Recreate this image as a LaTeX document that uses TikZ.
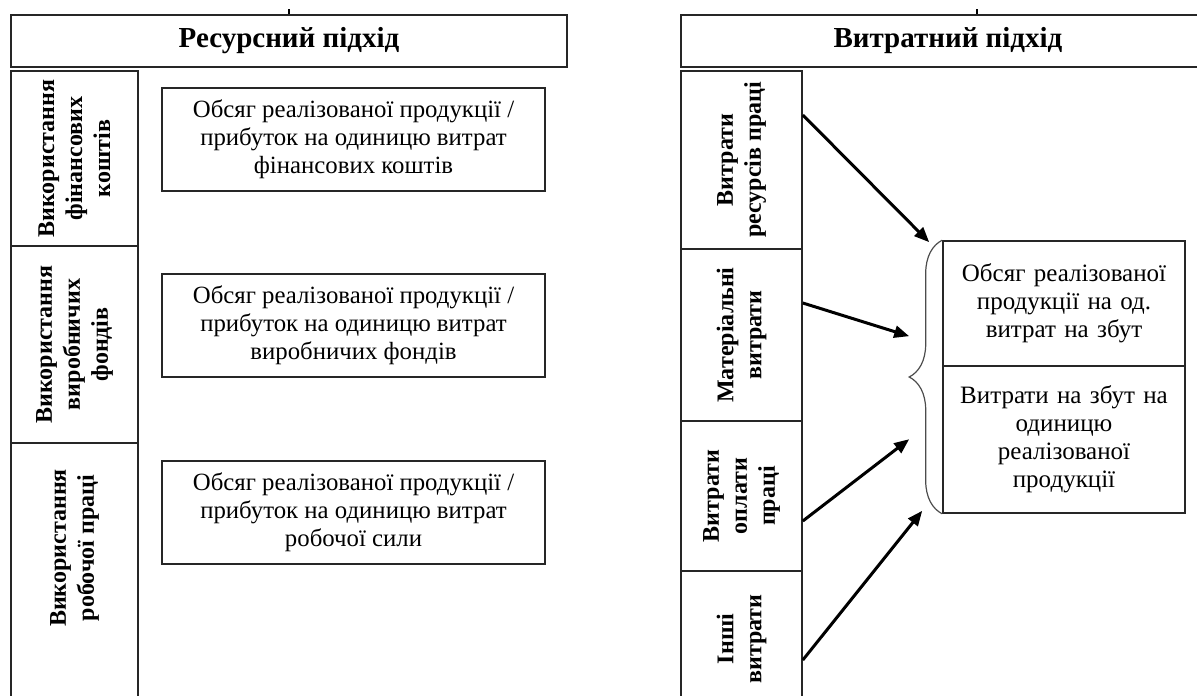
\documentclass[tikz,border=0pt]{standalone}
\usepackage{fontspec}
\setmainfont{Liberation Serif}
\usetikzlibrary{arrows.meta, calc, decorations.pathreplacing}

\begin{document}
\begin{tikzpicture}[
  x=0.5pt, y=-0.5pt,
  font=\fontsize{12}{14}\selectfont,
  frame/.style={draw=black!85, line width=0.8pt},
  head/.style={frame, font=\fontsize{14.5}{16}\selectfont\bfseries, minimum height=26pt, inner sep=0pt},
  vcell/.style={frame, rotate=90, align=center, font=\fontsize{12}{14}\selectfont\bfseries, inner sep=0pt},
  lcell/.style={vcell, minimum height=63.5pt},
  rcell/.style={vcell, minimum height=60.5pt},
  resbox/.style={frame, align=center, minimum width=191.5pt, minimum height=51.5pt, inner sep=0pt, font=\fontsize{12.4}{14}\selectfont},
  outbox/.style={frame, align=center, text width=114pt, minimum width=121pt, inner sep=0pt, font=\fontsize{12.5}{14}\selectfont},
  feed/.style={-{Triangle[length=7.5pt, width=6pt]}, line width=1.5pt, black},
  brc/.style={draw=black!70, line width=0.6pt, decorate, decoration={brace, amplitude=16.5pt}},
  tick/.style={line width=1.2pt, black}]

\clip (0,0) rectangle (1197,695);

% ---------- headers
\node[head, minimum width=278pt] (hRes)  at (289,41) {Ресурсний підхід};
\node[head, minimum width=267pt] (hCost) at (948,41) {Витратний підхід};
\draw[tick] (hRes.north) -- ++(0,-5);
\draw[tick] ([xshift=14.5pt]hCost.north) -- ++(0,-5);

% ---------- resource approach: rotated column
\node[lcell, minimum width=87.5pt]  (useFin) at (74.5,158.5) {Використання\\фінансових\\коштів};
\node[lcell, minimum width=98.5pt]  (useFix) at (74.5,344.5) {Використання\\виробничих\\фондів};
\node[lcell, minimum width=128.5pt] (useLab) at (74.5,571.5) {\hspace*{23.5pt}Використання\\\hspace*{23.5pt}робочої праці};

% ---------- resource approach: indicators
\node[resbox] (rFin) at (353.5,139.5) {Обсяг реалізованої продукції /\\прибуток на одиницю витрат\\фінансових коштів};
\node[resbox] (rFix) at (353.5,325.5) {Обсяг реалізованої продукції /\\прибуток на одиницю витрат\\виробничих фондів};
\node[resbox] (rLab) at (353.5,512.5) {Обсяг реалізованої продукції /\\прибуток на одиницю витрат\\робочої сили};

% ---------- cost approach: rotated column
\node[rcell, minimum width=89pt] (cLab) at (741.5,160) {Витрати\\ресурсів праці};
\node[rcell, minimum width=86pt] (cMat) at (741.5,335) {Матеріальні\\витрати};
\node[rcell, minimum width=75pt] (cPay) at (741.5,496) {Витрати\\оплати\\праці};
\node[rcell, minimum width=68pt] (cOth) at (741.5,639) {Інші\\витрати};

% ---------- cost approach: indicators with brace
\node[outbox, minimum height=62.5pt] (oVol)  at (1064,303.5) {Обсяг реалізованої\\продукції на од.\\витрат на збут};
\node[outbox, minimum height=73.5pt] (oCost) at (1064,439.5) {Витрати на збут на\\одиницю\\реалізованої\\продукції};
\draw[brc] (oCost.south west) -- (oVol.north west);

% ---------- arrows into the brace
\coordinate (in1) at ($(oVol.north west)+(-13,2)$);
\coordinate (in2) at ($(oVol.north west)+(-33,96)$);
\coordinate (in3) at ($(oCost.north west)+(-33,74)$);
\coordinate (in4) at ($(oCost.south west)+(-20,-3)$);
\draw[feed] ([yshift=22.5pt]cLab.south) -- (in1);
\draw[feed] ([yshift=16pt]cMat.south)   -- (in2);
\draw[feed] ([yshift=-12.5pt]cPay.south) -- (in3);
\draw[feed] ([yshift=-10.5pt]cOth.south) -- (in4);
\end{tikzpicture}
\end{document}
